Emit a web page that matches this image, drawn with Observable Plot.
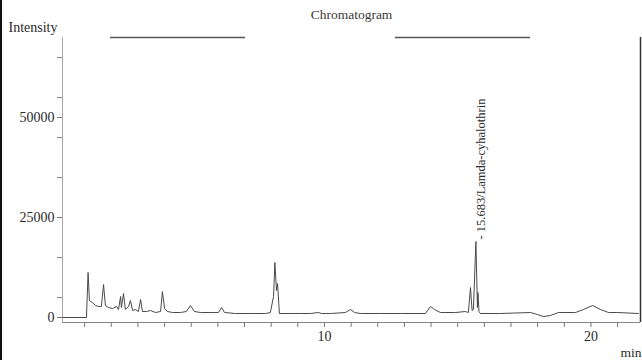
<!DOCTYPE html>
<html>
<head>
<meta charset="utf-8">
<script src="https://cdn.jsdelivr.net/npm/d3@7"></script>
<script src="https://cdn.jsdelivr.net/npm/@observablehq/plot@0.6"></script>
<style>
  html, body { margin: 0; padding: 0; background: #fff; }
  #chart { position: relative; width: 642px; height: 360px; overflow: hidden; }
  #chart::before { content: ""; position: absolute; left: 0; top: 0; width: 2px; height: 360px; background: #111; z-index: 1; }
</style>
</head>
<body>
<div id="chart"></div>
<script>
// Retention time (min) and detector intensity of the chromatogram trace
const time = [
  0.17, 1.07, 1.13, 1.18, 1.29, 1.41, 1.52, 1.63, 1.71, 1.78, 1.89, 2.05, 2.20, 2.27, 2.35, 2.38,
  2.46, 2.53, 2.65, 2.72, 2.80, 2.91, 3.02, 3.10, 3.17, 3.32, 3.47, 3.66, 3.85, 3.92, 4.00, 4.11,
  4.30, 4.60, 4.82, 4.97, 5.12, 5.35, 5.72, 6.02, 6.14, 6.25, 6.66, 7.22, 7.79, 7.97, 8.09, 8.14,
  8.20, 8.24, 8.31, 8.72, 9.10, 9.47, 9.77, 9.89, 10.23, 10.79, 10.98, 11.13, 11.35, 12.10, 12.85,
  13.79, 13.98, 14.13, 14.35, 14.92, 15.29, 15.40, 15.48, 15.54, 15.59, 15.683, 15.74, 15.76, 15.80,
  15.85, 16.60, 17.73, 17.99, 18.22, 18.48, 18.78, 19.42, 19.72, 20.06, 20.36, 20.66, 20.99, 21.78
];
const intensity = [
  0, 0, 11250, 4250, 3750, 3000, 2750, 2750, 8250, 3000, 2500, 2250, 2750, 2000, 5250, 2500,
  6000, 2000, 2750, 4250, 1750, 2000, 1500, 4500, 1500, 1500, 1750, 1250, 1500, 6500, 2250, 1500,
  1250, 1250, 1500, 3000, 1500, 1250, 1250, 1250, 2500, 1250, 1000, 1000, 1000, 1250, 5250, 13750,
  6750, 8500, 1000, 1000, 1000, 1000, 1250, 1000, 1000, 1250, 2000, 1250, 1000, 1000, 1000,
  1000, 2750, 2000, 1250, 1250, 1500, 1250, 7500, 1750, 2000, 19000, 2500, 6250, 1500,
  1000, 1000, 1250, 750, 250, 500, 1250, 1250, 2000, 3000, 2000, 1250, 1250, 1000
];

// Identified peak
const peakTimes = [15.683];
const peakNames = ["Lamda-cyhalothrin"];

// Axis ticks
const yLabelTicks = [0, 25000, 50000];
const yMinorTicks = [5000, 15000, 35000, 45000, 55000, 65000];
const xTicks = d3.range(1, 22);
const xLabelled = [10, 20];

// Remaining pieces of the top frame line (min)
const topFrame = [{from: 1.97, to: 7.04}, {from: 12.66, to: 17.73}];

const xDomain = [0.17, 21.86];
const yDomain = [-1250, 70000];

const trace = time.map((t, i) => ({t, v: intensity[i]}));
const peaks = peakTimes.map((t, i) => ({
  t,
  v: intensity[time.indexOf(t)],
  label: `- ${t.toFixed(3)}/${peakNames[i]}`
}));

const serif = "'Liberation Serif', 'Times New Roman', serif";

const chart = Plot.plot({
  width: 642,
  height: 360,
  marginLeft: 62,
  marginRight: 2,
  marginTop: 37,
  marginBottom: 38,
  style: { fontFamily: serif, fontSize: "14px", color: "#2a2a2a", background: "#fff" },
  x: { domain: xDomain },
  y: { domain: yDomain },
  marks: [
    Plot.ruleX([xDomain[0]], { stroke: "#aaa" }),
    Plot.ruleY([yDomain[0]], { stroke: "#888" }),
    Plot.ruleX([xDomain[1]], { stroke: "#333", strokeWidth: 1.5 }),
    Plot.ruleY(topFrame, { y: yDomain[1], x1: "from", x2: "to", stroke: "#555", strokeWidth: 1.5 }),
    Plot.axisY(yLabelTicks, {
      tickSize: 5, tickPadding: 3, tickFormat: d => String(d), label: null,
      stroke: "#777", fill: "#2a2a2a", fontSize: 14
    }),
    Plot.axisY(yMinorTicks, { tickSize: 5, tickFormat: () => "", label: null, stroke: "#888" }),
    Plot.axisX(xTicks, {
      tickSize: 5, tickPadding: 4, label: null,
      tickFormat: d => (xLabelled.includes(d) ? String(d) : ""),
      stroke: "#777", fill: "#2a2a2a", fontSize: 14
    }),
    Plot.line(trace, { x: "t", y: "v", stroke: "#4a4a4a", strokeWidth: 1 }),
    Plot.text(peaks, {
      x: "t", y: "v", text: "label", rotate: -90, textAnchor: "start",
      lineAnchor: "middle", dx: 5, dy: -2, fontSize: 12.5, fill: "#2a2a2a"
    }),
    Plot.text(["Chromatogram"], {
      frameAnchor: "top", dy: -23, lineAnchor: "middle", fontSize: 13.5, fill: "#3a3a3a"
    }),
    Plot.text(["Intensity"], {
      frameAnchor: "top-left", textAnchor: "start", lineAnchor: "middle",
      dx: -54, dy: -10, fontSize: 14, fill: "#2a2a2a"
    }),
    Plot.text(["min"], {
      frameAnchor: "bottom-right", textAnchor: "end", lineAnchor: "middle",
      dx: 1, dy: 30, fontSize: 13.5, fill: "#2a2a2a"
    })
  ]
});

document.getElementById("chart").appendChild(chart);
</script>
</body>
</html>
